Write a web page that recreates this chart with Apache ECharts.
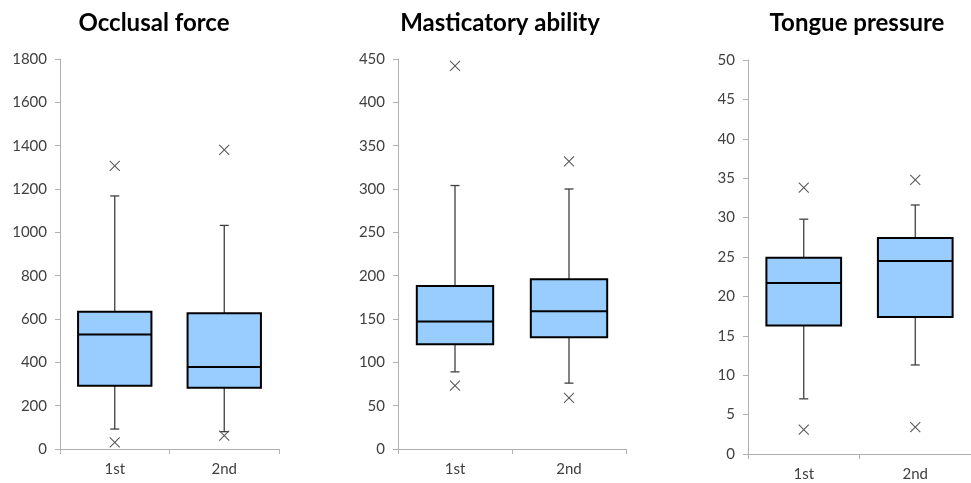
<!DOCTYPE html>
<html>
<head>
<meta charset="utf-8">
<script src="https://cdn.jsdelivr.net/npm/echarts@6/dist/echarts.min.js"></script>
<style>html,body{margin:0;padding:0;background:#fff;}#c{width:971px;height:483px;}</style>
</head>
<body>
<div id="c"></div>
<script>
// ---- data ----
const categories = ['1st', '2nd'];
const titles = ['Occlusal force', 'Masticatory ability', 'Tongue pressure'];
// [min whisker, Q1, median, Q3, max whisker]
const occlusalBox = [[92, 292, 529, 634, 1168], [80, 283, 378, 626, 1032]];
const occlusalOutliers = [[0, 1307], [0, 31], [1, 1381], [1, 62]];
const masticatoryBox = [[89, 121, 147, 188, 304], [76, 129, 159, 196, 300]];
const masticatoryOutliers = [[0, 442], [0, 73], [1, 332], [1, 59]];
const tongueBox = [[7.0, 16.3, 21.7, 24.9, 29.8], [11.3, 17.4, 24.5, 27.4, 31.6]];
const tongueOutliers = [[0, 33.8], [0, 3.1], [1, 34.8], [1, 3.4]];
const yMax = [1800, 450, 50];
const yStep = [200, 50, 5];

// ---- rendering ----
const chart = echarts.init(document.getElementById('c'), null, {renderer: 'canvas'});
const grids = [
  {left: 60, top: 59, width: 219, height: 390},
  {left: 398, top: 59, width: 228, height: 390},
  {left: 748, top: 60, width: 234, height: 394}
];
const titleX = [149, 495, 852];
const boxes = [occlusalBox, masticatoryBox, tongueBox];
const outliers = [occlusalOutliers, masticatoryOutliers, tongueOutliers];

function boxRender(params, api) {
  const i = api.value(0);
  const lo = api.coord([i, api.value(1)]);
  const q1 = api.coord([i, api.value(2)]);
  const med = api.coord([i, api.value(3)]);
  const q3 = api.coord([i, api.value(4)]);
  const hi = api.coord([i, api.value(5)]);
  const cx = lo[0];
  const bw = api.size([1, 0])[0] * 0.67;
  const cap = 9;
  const wStyle = {stroke: '#404040', lineWidth: 1.3};
  return {
    type: 'group',
    children: [
      {type: 'line', shape: {x1: cx, y1: q3[1], x2: cx, y2: hi[1]}, style: wStyle},
      {type: 'line', shape: {x1: cx - cap / 2, y1: hi[1], x2: cx + cap / 2, y2: hi[1]}, style: wStyle},
      {type: 'line', shape: {x1: cx, y1: q1[1], x2: cx, y2: lo[1]}, style: wStyle},
      {type: 'line', shape: {x1: cx - cap / 2, y1: lo[1], x2: cx + cap / 2, y2: lo[1]}, style: wStyle},
      {type: 'rect', shape: {x: cx - bw / 2, y: q3[1], width: bw, height: q1[1] - q3[1]},
        style: {fill: '#99CCFF', stroke: '#000', lineWidth: 2}},
      {type: 'line', shape: {x1: cx - bw / 2, y1: med[1], x2: cx + bw / 2, y2: med[1]},
        style: {stroke: '#000', lineWidth: 2}}
    ]
  };
}
function outlierRender(params, api) {
  const p = api.coord([api.value(0), api.value(1)]);
  const s = 5;
  const st = {stroke: '#595959', lineWidth: 1.1};
  return {
    type: 'group',
    children: [
      {type: 'line', shape: {x1: p[0] - s, y1: p[1] - s, x2: p[0] + s, y2: p[1] + s}, style: st},
      {type: 'line', shape: {x1: p[0] - s, y1: p[1] + s, x2: p[0] + s, y2: p[1] - s}, style: st}
    ]
  };
}

const option = {
  backgroundColor: '#fff',
  animation: false,
  title: titles.map((t, k) => ({
    text: t, left: titleX[k], top: 6, textAlign: 'center',
    textStyle: {fontFamily: 'Lato', fontWeight: 'bold', fontSize: 24, color: '#000'}
  })),
  grid: grids,
  xAxis: grids.map((g, k) => ({
    type: 'category', gridIndex: k, data: categories, boundaryGap: true,
    axisLine: {lineStyle: {color: '#b0b0b0', width: 1}},
    axisTick: {show: true, length: 5, lineStyle: {color: '#b0b0b0'}},
    axisLabel: {fontFamily: 'Lato', fontSize: 15, color: '#404040', margin: 13}
  })),
  yAxis: grids.map((g, k) => ({
    type: 'value', gridIndex: k, min: 0, max: yMax[k], interval: yStep[k],
    axisLine: {show: true, lineStyle: {color: '#b0b0b0', width: 1}},
    axisTick: {show: true, length: 5, lineStyle: {color: '#b0b0b0'}},
    splitLine: {show: false},
    axisLabel: {fontFamily: 'Lato', fontSize: 15, color: '#404040', margin: 13,
      formatter: v => String(v)}
  })),
  series: []
};
boxes.forEach((b, k) => {
  option.series.push({
    type: 'custom', xAxisIndex: k, yAxisIndex: k,
    data: b.map((v, i) => [i].concat(v)),
    encode: {x: 0, y: [1, 2, 3, 4, 5]},
    renderItem: boxRender, clip: false
  });
  option.series.push({
    type: 'custom', xAxisIndex: k, yAxisIndex: k,
    data: outliers[k],
    encode: {x: 0, y: 1},
    renderItem: outlierRender, clip: false
  });
});
chart.setOption(option);
</script>
</body>
</html>
